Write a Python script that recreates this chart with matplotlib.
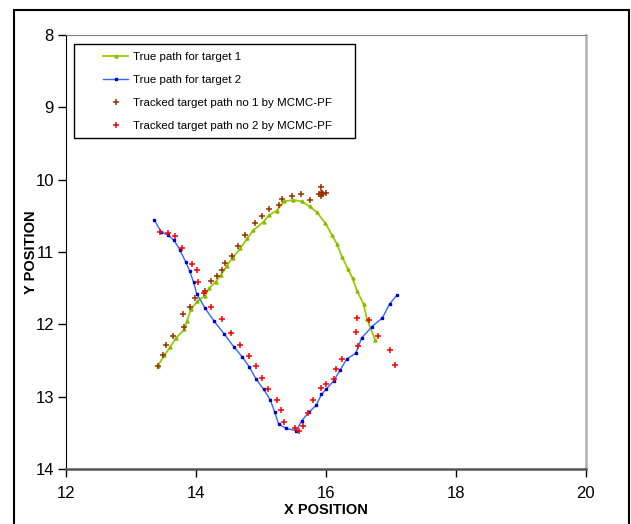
import matplotlib.pyplot as plt
from matplotlib.patches import Rectangle

plt.rcParams['font.family'] = ['Liberation Sans', 'DejaVu Sans']

# true path of target 1
true1_x = [13.41, 13.51, 13.60, 13.69, 13.82, 13.86, 13.92, 14.02, 14.13, 14.20,
           14.30, 14.38, 14.47, 14.56, 14.68, 14.79, 14.88, 15.04, 15.12, 15.24,
           15.35, 15.50, 15.63, 15.75, 15.86, 15.99, 16.09, 16.17, 16.25, 16.34,
           16.41, 16.48, 16.58, 16.63, 16.76]
true1_y = [12.57, 12.43, 12.31, 12.19, 12.07, 11.95, 11.79, 11.68, 11.61, 11.50,
           11.41, 11.32, 11.19, 11.08, 10.95, 10.81, 10.70, 10.58, 10.49, 10.43,
           10.30, 10.28, 10.30, 10.37, 10.45, 10.60, 10.76, 10.89, 11.07, 11.24,
           11.36, 11.54, 11.72, 11.92, 12.22]

# true path of target 2
true2_x = [13.35, 13.46, 13.57, 13.66, 13.75, 13.84, 13.90, 13.96, 14.01, 14.14,
           14.28, 14.43, 14.58, 14.71, 14.82, 14.92, 15.04, 15.14, 15.21, 15.27,
           15.39, 15.54, 15.63, 15.74, 15.85, 15.93, 16.00, 16.12, 16.22, 16.32,
           16.46, 16.55, 16.71, 16.87, 16.98, 17.09]
true2_y = [10.55, 10.72, 10.77, 10.84, 10.97, 11.14, 11.26, 11.42, 11.58, 11.78,
           11.96, 12.13, 12.31, 12.45, 12.59, 12.75, 12.90, 13.04, 13.21, 13.38,
           13.44, 13.47, 13.33, 13.21, 13.12, 12.97, 12.90, 12.78, 12.63, 12.48,
           12.40, 12.19, 12.03, 11.91, 11.72, 11.60]

# tracked target 1 (MCMC-PF)
track1_x = [13.41, 13.49, 13.53, 13.65, 13.82, 13.80, 13.90, 13.98, 14.13, 14.23,
            14.32, 14.40, 14.45, 14.55, 14.64, 14.75, 14.90, 15.02, 15.12, 15.27,
            15.33, 15.48, 15.62, 15.75, 15.92, 16.00, 15.92, 15.90, 15.94, 15.92,
            15.95]
track1_y = [12.57, 12.43, 12.29, 12.16, 12.04, 11.85, 11.76, 11.63, 11.54, 11.40,
            11.33, 11.25, 11.15, 11.05, 10.92, 10.76, 10.60, 10.50, 10.40, 10.35,
            10.27, 10.22, 10.20, 10.28, 10.10, 10.19, 10.19, 10.20, 10.18, 10.22,
            10.20]

# tracked target 2 (MCMC-PF)
track2_x = [13.44, 13.57, 13.68, 13.78, 13.93, 14.01, 14.03, 14.12, 14.23, 14.40,
            14.53, 14.68, 14.82, 14.92, 15.02, 15.11, 15.24, 15.30, 15.36, 15.53,
            15.59, 15.64, 15.73, 15.80, 15.93, 16.00, 16.13, 16.16, 16.25, 16.47,
            16.50, 16.48, 16.67, 16.80, 16.98, 17.07]
track2_y = [10.72, 10.73, 10.78, 10.94, 11.17, 11.25, 11.42, 11.56, 11.76, 11.93,
            12.12, 12.29, 12.44, 12.57, 12.74, 12.90, 13.04, 13.19, 13.35, 13.43,
            13.48, 13.40, 13.23, 13.04, 12.88, 12.83, 12.75, 12.62, 12.48, 12.10,
            12.30, 11.91, 11.94, 12.16, 12.36, 12.56]

fig = plt.figure(figsize=(6.31, 5.24), dpi=100)
ax = fig.add_axes([0.1052, 0.105, 0.8227, 0.828])

ax.plot(true1_x, true1_y, color='#99CC00', lw=1.3, marker='^', ms=2.2,
        mec='#88BB00', mfc='#88BB00', label='True path for target 1')
ax.plot(true2_x, true2_y, color='#3366FF', lw=1.0, marker='s', ms=1.8,
        mec='#0000CC', mfc='#0000CC', label='True path for target 2')
ax.plot(track1_x, track1_y, ls='none', marker='+', ms=4.5, mew=1.1,
        color='#993300', label='Tracked target path no 1 by MCMC-PF')
ax.plot(track2_x, track2_y, ls='none', marker='+', ms=4.5, mew=1.1,
        color='#FF0000', label='Tracked target path no 2 by MCMC-PF')

ax.set_xlim(12, 20)
ax.set_ylim(14, 8)
ax.set_xticks([12, 14, 16, 18, 20])
ax.set_yticks([8, 9, 10, 11, 12, 13, 14])
ax.tick_params(direction='out', length=6, width=1, labelsize=12, pad=3)
ax.tick_params(axis='x', pad=6)

ax.spines['left'].set_color('black')
ax.spines['bottom'].set_color('#555555')
ax.spines['bottom'].set_linewidth(1.8)
ax.spines['top'].set_color('#808080')
ax.spines['right'].set_color('#b0b0b0')
ax.spines['right'].set_linewidth(1.8)

ax.set_xlabel('X POSITION', fontsize=10.5, fontweight='bold', labelpad=2)
ax.set_ylabel('Y POSITION', fontsize=10.5, fontweight='bold', labelpad=-2)

leg = ax.legend(loc='upper left', bbox_to_anchor=(0.0705, 0.961), frameon=False,
                fontsize=8.25, borderpad=0, borderaxespad=0, handlelength=2.2,
                handletextpad=0.45, labelspacing=1.12)
ax.add_patch(Rectangle((0.0154, 0.763), 0.5405, 0.2174, transform=ax.transAxes,
                       fill=False, ec='black', lw=1.0, zorder=5))

fig.patches.append(Rectangle((0.022, -0.01), 0.975, 0.991, transform=fig.transFigure,
                             fill=False, ec='black', lw=1.5))

fig.savefig('out.png', dpi=100)
